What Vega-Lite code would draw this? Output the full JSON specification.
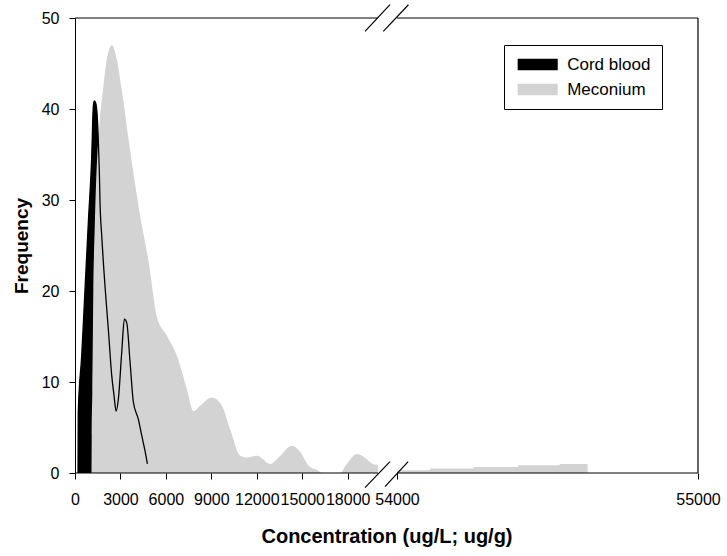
{
  "$schema": "https://vega.github.io/schema/vega-lite/v6.json",
  "width": 623,
  "height": 455,
  "autosize": "none",
  "padding": {"left": 75, "top": 18, "right": 29, "bottom": 83},
  "background": "white",
  "config": {
    "view": {"stroke": null},
    "font": "Liberation Sans",
    "axis": {
      "grid": false,
      "domainColor": "black",
      "tickColor": "black",
      "labelColor": "black",
      "titleColor": "black",
      "tickSize": 6,
      "labelFontSize": 16,
      "labelFont": "Liberation Sans",
      "titleFont": "Liberation Sans",
      "titleFontWeight": "bold"
    }
  },
  "datasets": {
    "curves": [
      {"series": "Cord blood", "conc": 200, "freq": 0},
      {"series": "Cord blood", "conc": 215, "freq": 6.6},
      {"series": "Cord blood", "conc": 443, "freq": 12.9},
      {"series": "Cord blood", "conc": 661, "freq": 20.2},
      {"series": "Cord blood", "conc": 879, "freq": 27.5},
      {"series": "Cord blood", "conc": 1104, "freq": 34.8},
      {"series": "Cord blood", "conc": 1209, "freq": 40.3},
      {"series": "Cord blood", "conc": 1275, "freq": 40.9},
      {"series": "Cord blood", "conc": 1388, "freq": 40.5},
      {"series": "Cord blood", "conc": 1540, "freq": 36.6},
      {"series": "Cord blood", "conc": 1606, "freq": 33.1},
      {"series": "Cord blood", "conc": 1652, "freq": 29.7},
      {"series": "Cord blood", "conc": 1764, "freq": 26.1},
      {"series": "Cord blood", "conc": 1982, "freq": 20.5},
      {"series": "Cord blood", "conc": 2200, "freq": 15.8},
      {"series": "Cord blood", "conc": 2425, "freq": 10.7},
      {"series": "Cord blood", "conc": 2577, "freq": 8.5},
      {"series": "Cord blood", "conc": 2709, "freq": 6.8},
      {"series": "Cord blood", "conc": 2861, "freq": 8.1},
      {"series": "Cord blood", "conc": 3086, "freq": 13.3},
      {"series": "Cord blood", "conc": 3258, "freq": 16.9},
      {"series": "Cord blood", "conc": 3416, "freq": 16.5},
      {"series": "Cord blood", "conc": 3634, "freq": 12.2},
      {"series": "Cord blood", "conc": 3852, "freq": 7.8},
      {"series": "Cord blood", "conc": 4183, "freq": 5.9},
      {"series": "Cord blood", "conc": 4408, "freq": 4.1},
      {"series": "Cord blood", "conc": 4626, "freq": 2.4},
      {"series": "Cord blood", "conc": 4778, "freq": 1.0},
      {"series": "Meconium", "conc": 1090, "freq": 0},
      {"series": "Meconium", "conc": 1104, "freq": 4},
      {"series": "Meconium", "conc": 1143, "freq": 9},
      {"series": "Meconium", "conc": 1209, "freq": 20},
      {"series": "Meconium", "conc": 1302, "freq": 27},
      {"series": "Meconium", "conc": 1474, "freq": 35},
      {"series": "Meconium", "conc": 1540, "freq": 36.6},
      {"series": "Meconium", "conc": 1700, "freq": 40},
      {"series": "Meconium", "conc": 1850, "freq": 42.1},
      {"series": "Meconium", "conc": 2100, "freq": 45.5},
      {"series": "Meconium", "conc": 2445, "freq": 47},
      {"series": "Meconium", "conc": 2750, "freq": 45.5},
      {"series": "Meconium", "conc": 3086, "freq": 42.1},
      {"series": "Meconium", "conc": 3634, "freq": 35.5},
      {"series": "Meconium", "conc": 4305, "freq": 28.2},
      {"series": "Meconium", "conc": 4870, "freq": 23.1},
      {"series": "Meconium", "conc": 5400, "freq": 17.2},
      {"series": "Meconium", "conc": 6060, "freq": 15.1},
      {"series": "Meconium", "conc": 6720, "freq": 12.9},
      {"series": "Meconium", "conc": 7385, "freq": 9.2},
      {"series": "Meconium", "conc": 7820, "freq": 6.8},
      {"series": "Meconium", "conc": 8260, "freq": 7.4},
      {"series": "Meconium", "conc": 9030, "freq": 8.3},
      {"series": "Meconium", "conc": 9700, "freq": 7.4},
      {"series": "Meconium", "conc": 10240, "freq": 4.8},
      {"series": "Meconium", "conc": 10900, "freq": 1.9},
      {"series": "Meconium", "conc": 11350, "freq": 1.7},
      {"series": "Meconium", "conc": 12000, "freq": 1.9},
      {"series": "Meconium", "conc": 12885, "freq": 1.0},
      {"series": "Meconium", "conc": 13550, "freq": 1.9},
      {"series": "Meconium", "conc": 14320, "freq": 3.0},
      {"series": "Meconium", "conc": 14870, "freq": 2.3},
      {"series": "Meconium", "conc": 15420, "freq": 0.8},
      {"series": "Meconium", "conc": 16080, "freq": 0.25},
      {"series": "Meconium", "conc": 16300, "freq": 0},
      {"series": "Meconium", "conc": 17510, "freq": 0},
      {"series": "Meconium", "conc": 17900, "freq": 0.9},
      {"series": "Meconium", "conc": 18620, "freq": 2.1},
      {"series": "Meconium", "conc": 19200, "freq": 1.6},
      {"series": "Meconium", "conc": 19490, "freq": 1.17},
      {"series": "Meconium", "conc": 19800, "freq": 0.9},
      {"series": "Meconium", "conc": 19990, "freq": 0.9},
      {"series": "Meconium", "conc": 20000, "freq": 0},
      {"series": "Meconium", "conc": 54000, "freq": 0},
      {"series": "Meconium", "conc": 54001, "freq": 0.3},
      {"series": "Meconium", "conc": 54109, "freq": 0.3},
      {"series": "Meconium", "conc": 54110, "freq": 0.5},
      {"series": "Meconium", "conc": 54253, "freq": 0.5},
      {"series": "Meconium", "conc": 54254, "freq": 0.66},
      {"series": "Meconium", "conc": 54402, "freq": 0.66},
      {"series": "Meconium", "conc": 54403, "freq": 0.84},
      {"series": "Meconium", "conc": 54540, "freq": 0.84},
      {"series": "Meconium", "conc": 54541, "freq": 1.0},
      {"series": "Meconium", "conc": 54633, "freq": 1.0},
      {"series": "Meconium", "conc": 54634, "freq": 0}
    ],
    "frame": [
      {"part": "bottom", "conc": 0, "conc2": 20000, "freq": 0, "freq2": 0},
      {"part": "bottom", "conc": 54000, "conc2": 55000, "freq": 0, "freq2": 0},
      {"part": "top", "conc": 0, "conc2": 20000, "freq": 50, "freq2": 50},
      {"part": "top", "conc": 54000, "conc2": 55000, "freq": 50, "freq2": 50},
      {"part": "right", "conc": 55000, "conc2": 55000, "freq": 0, "freq2": 50},
      {"part": "break", "conc": 19142, "conc2": 41474, "freq": -1.6, "freq2": 1.25},
      {"part": "break", "conc": 32526, "conc2": 54037, "freq": -1.5, "freq2": 1.25},
      {"part": "break", "conc": 19142, "conc2": 41474, "freq": 48.53, "freq2": 51.46},
      {"part": "break", "conc": 29484, "conc2": 54038, "freq": 48.53, "freq2": 51.46}
    ]
  },
  "encoding": {
    "x": {
      "field": "conc",
      "type": "quantitative",
      "scale": {"domain": [0, 20000, 54000, 55000], "range": [0, 303, 322, 623], "nice": false, "zero": false},
      "axis": {
        "title": "Concentration (ug/L; ug/g)",
        "titleFontSize": 20,
        "titlePadding": 19,
        "values": [0, 3000, 6000, 9000, 12000, 15000, 18000, 54000, 55000],
        "format": "d",
        "labelOverlap": false,
        "labelBound": false,
        "labelFlush": false,
        "labelPadding": 12,
        "domain": false
      }
    },
    "y": {
      "field": "freq",
      "type": "quantitative",
      "scale": {"domain": [0, 50], "nice": false, "zero": false},
      "axis": {
        "title": "Frequency",
        "titleFontSize": 19,
        "titlePadding": 10,
        "values": [0, 10, 20, 30, 40, 50],
        "labelPadding": 10,
        "domain": true
      }
    }
  },
  "layer": [
    {
      "data": {"name": "curves"},
      "transform": [{"filter": "datum.series === 'Cord blood'"}],
      "mark": {"type": "area", "interpolate": "monotone"},
      "encoding": {
        "color": {
          "field": "series",
          "type": "nominal",
          "scale": {"domain": ["Cord blood", "Meconium"], "range": ["#000000", "#d3d3d3"]},
          "legend": {
            "title": null,
            "orient": "none",
            "legendX": 429,
            "legendY": 27,
            "symbolType": "M-3.45,-1H3.45V1H-3.45Z",
            "symbolSize": 135,
            "symbolOffset": 14.2,
            "symbolStrokeWidth": 0,
            "symbolOpacity": 1,
            "labelFontSize": 17,
            "labelOffset": 21,
            "labelColor": "black",
            "padding": 11,
            "rowPadding": 7,
            "strokeColor": "black",
            "fillColor": "white"
          }
        }
      }
    },
    {
      "data": {"name": "curves"},
      "transform": [{"filter": "datum.series === 'Meconium'"}],
      "mark": {"type": "area", "interpolate": "monotone"},
      "encoding": {
        "color": {"field": "series", "type": "nominal"}
      }
    },
    {
      "data": {"name": "curves"},
      "transform": [{"filter": "datum.series === 'Cord blood'"}],
      "mark": {"type": "line", "color": "black", "strokeWidth": 1.3, "interpolate": "monotone"}
    },
    {
      "data": {"name": "frame"},
      "mark": {"type": "rule", "color": "black", "strokeWidth": 1.2},
      "encoding": {
        "x2": {"field": "conc2"},
        "y2": {"field": "freq2"}
      }
    }
  ]
}
